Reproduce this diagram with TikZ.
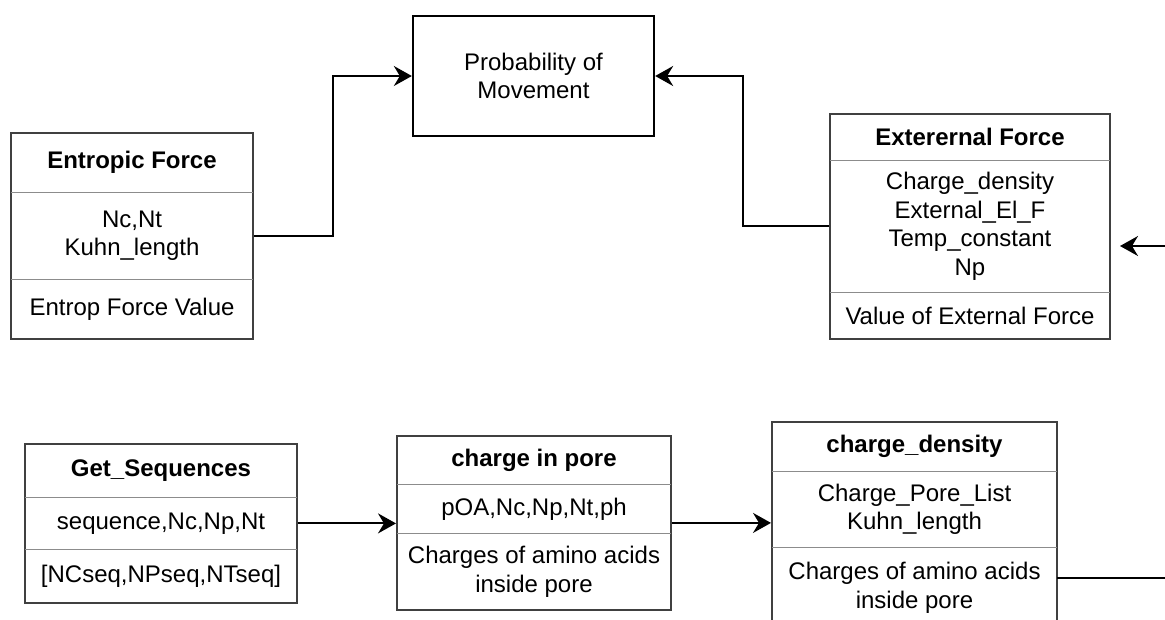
\documentclass[tikz,border=0pt]{standalone}
\usepackage{fontspec}
\setmainfont{Liberation Sans}
\usetikzlibrary{positioning,fit,arrows.meta}
\newcommand{\boxfont}{\fontsize{24}{28.5}\selectfont}
\tikzset{
  part/.style={inner sep=0pt, align=center},
  head/.style={part, font=\boxfont\bfseries},
  frame/.style={draw=black!75, line width=1.6pt, inner sep=0pt},
  divider/.style={draw=black!45, line width=1pt},
  probbox/.style={draw, line width=2.3pt, inner sep=0pt, align=center},
  line/.style={draw, line width=2pt, -{Stealth[length=18pt, width=20pt, inset=6pt]}},
  plain/.style={draw, line width=2pt}
}

\begin{document}
\begin{tikzpicture}[x=1pt, y=-1pt, font=\boxfont]
   \useasboundingbox (0,0) rectangle (1165,619);

   % Probability box %%%%%%%%%%%%%%%%%%%%%%%%%%%%%%%%%%%%%%%%%%%%%%%%%%
   \node[probbox, minimum width=241pt, minimum height=120pt] (prob) at (533.5,76) {%
      Probability of\\Movement};

   % Entropic force %%%%%%%%%%%%%%%%%%%%%%%%%%%%%%%%%%%%%%%%%%%%%%%%%%%
   \node[head, minimum width=242pt, minimum height=59pt] (ehead) at (132,162.5) {Entropic Force};
   \node[part, below=0pt of ehead, minimum width=242pt, minimum height=87pt] (ebody) {Nc,Nt\\Kuhn\_length};
   \node[part, below=0pt of ebody, minimum width=242pt, minimum height=59pt] (efoot) {Entrop Force Value};
   \node[frame, fit=(ehead)(efoot)] (entropic) {};

   % External force %%%%%%%%%%%%%%%%%%%%%%%%%%%%%%%%%%%%%%%%%%%%%%%%%%%
   \node[head, minimum width=280pt, minimum height=46pt] (xhead) at (970,137) {Exterernal Force};
   \node[part, below=0pt of xhead, minimum width=280pt, minimum height=132pt] (xbody) {%
      Charge\_density\\External\_El\_F\\Temp\_constant\\Np};
   \node[part, below=0pt of xbody, minimum width=280pt, minimum height=46pt] (xfoot) {Value of External Force};
   \node[frame, fit=(xhead)(xfoot)] (external) {};

   % Sequences %%%%%%%%%%%%%%%%%%%%%%%%%%%%%%%%%%%%%%%%%%%%%%%%%%%%%%%%
   \node[head, minimum width=272pt, minimum height=53pt] (shead) at (161,470.5) {Get\_Sequences};
   \node[part, below=0pt of shead, minimum width=272pt, minimum height=52pt] (sbody) {sequence,Nc,Np,Nt};
   \node[part, below=0pt of sbody, minimum width=272pt, minimum height=53pt] (sfoot) {[NCseq,NPseq,NTseq]};
   \node[frame, fit=(shead)(sfoot)] (seq) {};

   % Charge in pore %%%%%%%%%%%%%%%%%%%%%%%%%%%%%%%%%%%%%%%%%%%%%%%%%%%
   \node[head, minimum width=274pt, minimum height=48pt] (phead) at (534,460) {charge in pore};
   \node[part, below=0pt of phead, minimum width=274pt, minimum height=49pt] (pbody) {pOA,Nc,Np,Nt,ph};
   \node[part, below=0pt of pbody, minimum width=274pt, minimum height=76pt] (pfoot) {%
      Charges of amino acids\\inside pore};
   \node[frame, fit=(phead)(pfoot)] (pore) {};

   % Charge density %%%%%%%%%%%%%%%%%%%%%%%%%%%%%%%%%%%%%%%%%%%%%%%%%%%
   \node[head, minimum width=285pt, minimum height=49pt] (dhead) at (914.5,446.5) {charge\_density};
   \node[part, below=0pt of dhead, minimum width=285pt, minimum height=76pt] (dbody) {%
      Charge\_Pore\_List\\Kuhn\_length};
   \node[part, below=0pt of dbody, minimum width=285pt, minimum height=80pt] (dfoot) {%
      Charges of amino acids\\inside pore};
   \node[frame, fit=(dhead)(dfoot)] (density) {};

   % Dividers
   \foreach \cls in {e,x,s,p,d}{
      \draw[divider] (\cls head.south west) -- (\cls head.south east);
      \draw[divider] (\cls body.south west) -- (\cls body.south east);
   }

   % Draw edges
   \coordinate (extin) at (1170,246);
   \coordinate (extend) at (1120,246);
   \coordinate (densout) at (1170,578);

   \path [line] (entropic.east) -- ++(79,0) |- (prob.west);
   \path [line] (external.west) -- ++(-86,0) |- (prob.east);
   \path [line] (extin) -- (extend);
   \path [line] (seq.east) -- (seq.east -| pore.west);
   \path [line] (pore.east) -- (pore.east -| density.west);
   \path [plain] (dfoot.east |- densout) -- (densout);
\end{tikzpicture}
\end{document}
